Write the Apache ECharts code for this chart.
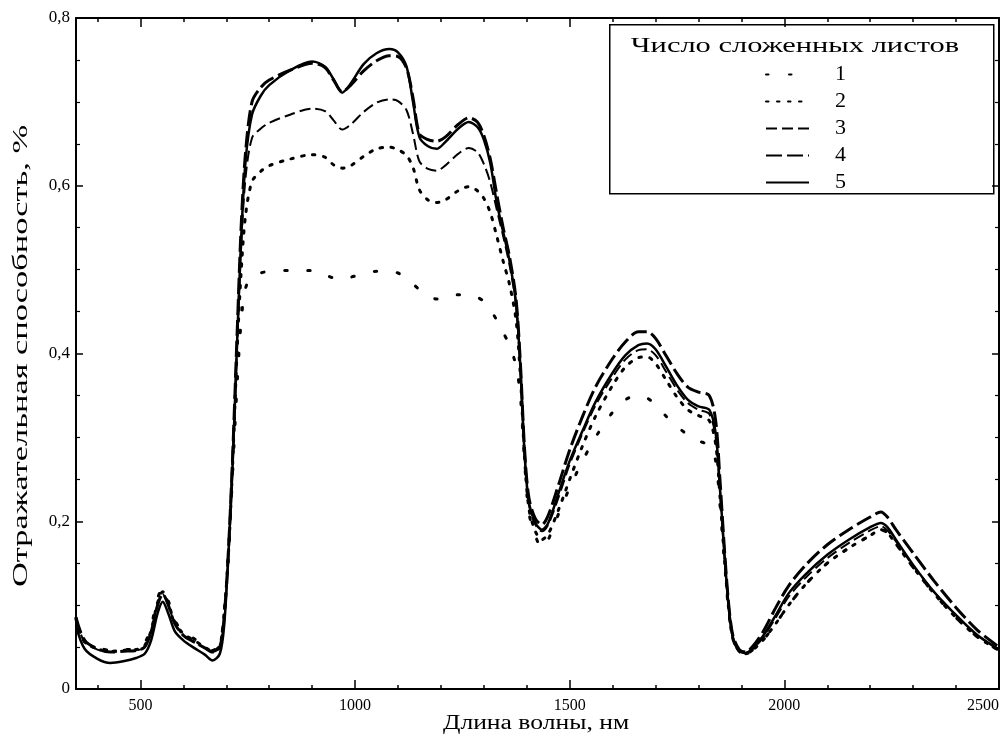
<!DOCTYPE html>
<html><head><meta charset="utf-8">
<script src="https://cdn.jsdelivr.net/npm/echarts@6/dist/echarts.min.js"></script>
<style>html,body{margin:0;padding:0;background:#fff}#c{width:1005px;height:747px}</style>
</head><body><div id="c"></div>
<script>
const wavelengths = [350,370,400,430,460,490,510,525,540,552,565,580,600,625,650,668,685,695,705,715,725,735,745,760,780,800,850,900,930,950,970,990,1020,1050,1080,1100,1120,1135,1150,1170,1190,1210,1240,1265,1285,1300,1315,1330,1345,1360,1375,1385,1395,1405,1420,1435,1450,1475,1500,1530,1560,1600,1630,1660,1680,1700,1725,1750,1775,1800,1825,1840,1850,1860,1870,1880,1895,1910,1925,1950,1980,2010,2050,2100,2150,2200,2225,2240,2260,2300,2350,2400,2450,2500];

const sheets1 = [0.085,0.058,0.050,0.046,0.047,0.048,0.055,0.075,0.108,0.120,0.105,0.082,0.068,0.060,0.052,0.046,0.054,0.090,0.160,0.260,0.360,0.440,0.478,0.492,0.496,0.498,0.499,0.499,0.494,0.490,0.489,0.491,0.495,0.498,0.498,0.496,0.490,0.483,0.476,0.469,0.465,0.466,0.470,0.470,0.467,0.462,0.452,0.440,0.425,0.410,0.385,0.350,0.270,0.210,0.183,0.168,0.178,0.210,0.240,0.272,0.300,0.330,0.345,0.350,0.347,0.339,0.325,0.313,0.303,0.296,0.290,0.272,0.220,0.155,0.095,0.060,0.045,0.042,0.046,0.058,0.078,0.100,0.125,0.150,0.168,0.183,0.190,0.186,0.173,0.145,0.113,0.085,0.062,0.046];

const sheets2 = [0.083,0.056,0.048,0.045,0.046,0.047,0.052,0.070,0.103,0.116,0.102,0.080,0.066,0.058,0.050,0.045,0.052,0.090,0.160,0.270,0.400,0.500,0.565,0.605,0.617,0.624,0.632,0.637,0.634,0.625,0.621,0.624,0.635,0.644,0.646,0.643,0.636,0.622,0.595,0.583,0.580,0.583,0.594,0.599,0.594,0.585,0.568,0.540,0.510,0.482,0.440,0.375,0.275,0.215,0.188,0.178,0.185,0.215,0.250,0.290,0.325,0.362,0.384,0.395,0.396,0.388,0.368,0.348,0.333,0.326,0.320,0.292,0.230,0.158,0.097,0.060,0.045,0.042,0.046,0.058,0.078,0.100,0.125,0.150,0.168,0.183,0.190,0.186,0.173,0.145,0.113,0.085,0.062,0.046];

const sheets3 = [0.083,0.056,0.047,0.044,0.045,0.046,0.050,0.067,0.100,0.113,0.100,0.078,0.064,0.056,0.049,0.044,0.050,0.085,0.160,0.270,0.410,0.530,0.610,0.657,0.668,0.675,0.685,0.692,0.689,0.678,0.667,0.673,0.688,0.699,0.703,0.701,0.690,0.662,0.629,0.620,0.618,0.624,0.638,0.645,0.640,0.626,0.604,0.572,0.540,0.505,0.458,0.383,0.280,0.220,0.196,0.188,0.196,0.230,0.268,0.305,0.338,0.372,0.393,0.404,0.405,0.398,0.378,0.357,0.341,0.333,0.328,0.300,0.235,0.160,0.098,0.060,0.044,0.042,0.047,0.061,0.085,0.110,0.133,0.156,0.174,0.189,0.194,0.189,0.176,0.147,0.115,0.088,0.064,0.047];

const sheets4 = [0.085,0.058,0.048,0.044,0.045,0.046,0.050,0.068,0.100,0.113,0.100,0.078,0.064,0.056,0.049,0.044,0.050,0.085,0.165,0.280,0.420,0.555,0.640,0.700,0.717,0.726,0.738,0.746,0.741,0.726,0.712,0.720,0.737,0.749,0.755,0.754,0.740,0.705,0.662,0.655,0.653,0.658,0.673,0.681,0.676,0.660,0.632,0.590,0.550,0.515,0.465,0.390,0.285,0.228,0.203,0.196,0.207,0.245,0.285,0.325,0.360,0.394,0.414,0.426,0.426,0.418,0.397,0.376,0.360,0.354,0.350,0.320,0.250,0.170,0.103,0.064,0.047,0.044,0.050,0.068,0.097,0.123,0.148,0.172,0.190,0.205,0.211,0.205,0.190,0.162,0.128,0.097,0.070,0.050];

const sheets5 = [0.075,0.048,0.036,0.031,0.033,0.037,0.042,0.058,0.090,0.104,0.090,0.069,0.058,0.049,0.041,0.034,0.042,0.075,0.160,0.270,0.410,0.540,0.630,0.685,0.707,0.720,0.738,0.748,0.742,0.727,0.711,0.722,0.745,0.758,0.763,0.759,0.742,0.700,0.658,0.647,0.644,0.652,0.668,0.676,0.670,0.655,0.627,0.580,0.545,0.510,0.460,0.385,0.280,0.222,0.198,0.190,0.198,0.235,0.272,0.308,0.342,0.377,0.398,0.410,0.412,0.405,0.384,0.362,0.345,0.337,0.333,0.305,0.240,0.165,0.100,0.062,0.045,0.043,0.048,0.063,0.088,0.114,0.137,0.160,0.178,0.193,0.198,0.193,0.178,0.148,0.115,0.088,0.064,0.047];

const seriesNames = ['1','2','3','4','5'];
const xMajorTicks = [500,1000,1500,2000,2500];
const xMinorTicks = [400,600,700,800,900,1100,1200,1300,1400,1600,1700,1800,1900,2100,2200,2300,2400];
const legendTitle = 'Число сложенных листов';
const xName = 'Длина волны, нм';
const yName = 'Отражательная способность, %';

const FONT = 'Liberation Serif';
const allData = [sheets1, sheets2, sheets3, sheets4, sheets5];
const styles = [
  {width: 3, type: [2.5, 20.5], cap: 'round'},
  {width: 3, type: [2.5, 8.5], cap: 'round'},
  {width: 2, type: [11, 5]},
  {width: 3, type: [16, 5]},
  {width: 2.5, type: 'solid'}
];

const baseX = {type: 'value', min: 350, max: 2500, gridIndex: 0, splitLine: {show: false}};
function xAxisDef(pos, ticks, len, labels, line) {
  return Object.assign({}, baseX, {
    position: pos,
    axisLine: {show: line, onZero: false, lineStyle: {color: '#000', width: 2}},
    axisTick: {show: true, inside: true, length: len, customValues: ticks, lineStyle: {color: '#000', width: 1.5}},
    axisLabel: labels ? {show: true, customValues: ticks, color: '#000', fontFamily: FONT, fontSize: 16, margin: 9,
      alignMaxLabel: 'right', formatter: v => String(v)} : {show: false}
  });
}
function yAxisDef(pos, labels) {
  return {
    type: 'value', min: 0, max: 0.8, interval: 0.2, position: pos,
    splitLine: {show: false},
    axisLine: {show: true, onZero: false, lineStyle: {color: '#000', width: 2}},
    axisTick: {show: true, inside: true, length: 7, lineStyle: {color: '#000', width: 1.5}},
    minorTick: {show: true, splitNumber: 4, length: 4, lineStyle: {color: '#000', width: 1.2}},
    axisLabel: labels ? {show: true, color: '#000', fontFamily: FONT, fontSize: 17, margin: 6,
      formatter: v => (Math.round(v*10)/10).toString().replace('.', ',')} : {show: false}
  };
}

const chart = echarts.init(document.getElementById('c'), null, {renderer: 'canvas'});
chart.setOption({
  backgroundColor: '#fff',
  animation: false,
  grid: {left: 76, right: 6, top: 18, bottom: 58, containLabel: false, outerBoundsMode: 'none'},
  xAxis: [
    xAxisDef('bottom', xMajorTicks, 9, true, true),
    xAxisDef('bottom', xMinorTicks, 4, false, false),
    xAxisDef('top', xMajorTicks, 9, false, true),
    xAxisDef('top', xMinorTicks, 4, false, false)
  ],
  yAxis: [yAxisDef('left', true), yAxisDef('right', false)],
  legend: {
    orient: 'vertical', left: 760, top: 56, itemWidth: 43, itemHeight: 27, itemGap: 0,
    selectedMode: false,
    itemStyle: {opacity: 0, borderWidth: 0},
    lineStyle: {opacity: 1},
    textStyle: {fontFamily: FONT, fontSize: 22, color: '#000', lineHeight: 27, padding: [0, 0, 0, 21]},
    data: seriesNames
  },
  graphic: [
    {type: 'rect', left: 609, top: 24, shape: {width: 384, height: 169}, style: {fill: '#fff', stroke: '#000', lineWidth: 1.5}, z: 0},
    {type: 'text', x: 795, y: 46, scaleX: 1.45, style: {text: legendTitle, fontFamily: FONT, fontSize: 21, fill: '#000', textAlign: 'center', textVerticalAlign: 'middle'}, z: 10},
    {type: 'text', x: 536, y: 724, scaleX: 1.28, style: {text: xName, fontFamily: FONT, fontSize: 20, fill: '#000', textAlign: 'center', textVerticalAlign: 'middle'}},
    {type: 'text', x: 22, y: 356, rotation: Math.PI/2, scaleX: 1.72, style: {text: yName, fontFamily: FONT, fontSize: 20, fill: '#000', textAlign: 'center', textVerticalAlign: 'middle'}}
  ],
  series: allData.map((arr, i) => ({
    name: seriesNames[i], type: 'line', xAxisIndex: 0, yAxisIndex: 0,
    showSymbol: false, symbol: 'none', smooth: 0.3, z: 3,
    lineStyle: {color: '#000', width: styles[i].width, type: styles[i].type, cap: styles[i].cap || 'butt'},
    itemStyle: {color: '#000'},
    data: wavelengths.map((w, k) => [w, arr[k]])
  }))
});
</script></body></html>
